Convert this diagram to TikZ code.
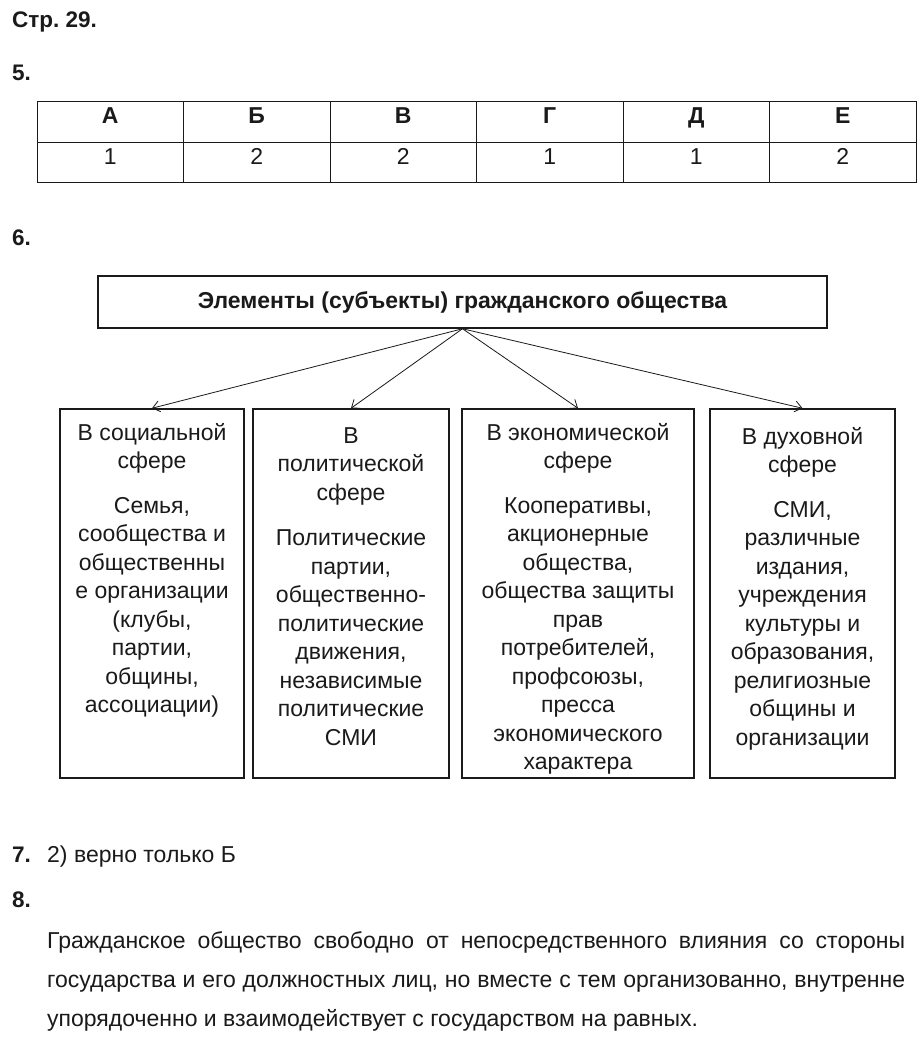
\documentclass[tikz,border=0pt]{standalone}
\usepackage{fontspec}
\setmainfont{Liberation Sans}
\frenchspacing
\usepackage{tikz}
\usetikzlibrary{arrows.meta, positioning}
\definecolor{inkblack}{HTML}{1A1A1A}

\tikzset{
    numlabel/.style={anchor=base west, inner sep=0pt, font=\bfseries\fontsize{22.5}{26}\selectfont},
    cellhead/.style={anchor=base, inner sep=0pt, font=\bfseries\fontsize{23}{26}\selectfont},
    cellval/.style={anchor=base, inner sep=0pt, font=\fontsize{23}{26}\selectfont},
    titlebox/.style={draw, line width=1.5pt, minimum width=729pt, minimum height=52pt, inner sep=0pt, font=\bfseries\fontsize{23}{26}\selectfont},
    spherebox/.style={draw, line width=1.5pt, minimum height=369pt, inner sep=0pt},
    boxtext/.style={anchor=north, align=center, inner sep=0pt, font=\fontsize{23}{28.5}\selectfont},
    paratext/.style={anchor=base west, inner sep=0pt, font=\fontsize{23}{26}\selectfont},
}

\begin{document}
\begin{tikzpicture}[x=1pt, y=-1pt, >={Straight Barb[length=7pt, width=11pt]}, inkblack]
    \useasboundingbox[fill=white] (0,0) rectangle (920,1043);

    % ── page and task 5 ───────────────────────────────────────────────
    \node[numlabel] (page) at (12,28) {Стр. 29.};
    \node[numlabel] (task5) at (12,81) {5.};
    \draw[line width=0.8pt] (37,101) rectangle (916,182);
    \draw[line width=0.8pt] (37,142) -- (916,142);
    \foreach \i in {1,...,5}{
        \draw[line width=0.8pt] ({37+146.5*\i},101) -- ({37+146.5*\i},182);
    }
    \foreach \letter/\val [count=\i from 0] in {А/1, Б/2, В/2, Г/1, Д/1, Е/2}{
        \node[cellhead] (head\i) at ({37+146.5*(\i+0.5)},124) {\letter};
        \node[cellval] (val\i) at ({37+146.5*(\i+0.5)},165) {\val};
    }

    % ── task 6: scheme ────────────────────────────────────────────────
    \node[numlabel] (task6) at (12,245) {6.};
    \node[titlebox] (title) at (462.5,302) {Элементы (субъекты) гражданского общества};

    \node[spherebox, minimum width=184pt] (soc) at (152,593.5) {};
    \node[spherebox, minimum width=196pt] (pol) at (351,593.5) {};
    \node[spherebox, minimum width=232pt] (eco) at (578,593.5) {};
    \node[spherebox, minimum width=185pt] (spir) at (802.5,593.5) {};

    \foreach \target in {soc, pol, eco, spir}{
        \draw[->, line width=0.8pt] (title.south) -- (\target.north);
    }

    \node[boxtext] (socText) at (152,423) {В социальной\\сфере\\[16pt]
        Семья,\\сообщества и\\общественны\\е организации\\(клубы,\\партии,\\общины,\\ассоциации)};
    \node[boxtext] (polText) at (351,427) {В\\политической\\сфере\\[17pt]
        Политические\\партии,\\общественно-\\политические\\движения,\\независимые\\политические\\СМИ};
    \node[boxtext] (ecoText) at (578,423) {В экономической\\сфере\\[16pt]
        Кооперативы,\\акционерные\\общества,\\общества защиты\\прав\\потребителей,\\профсоюзы,\\пресса\\экономического\\характера};
    \node[boxtext] (spirText) at (802.5,427) {В духовной\\сфере\\[16pt]
        СМИ,\\различные\\издания,\\учреждения\\культуры и\\образования,\\религиозные\\общины и\\организации};

    % ── tasks 7 and 8 ─────────────────────────────────────────────────
    \node[numlabel] (task7) at (12,862) {7.};
    \node[paratext] (answer7) at (47,862) {2) верно только Б};
    \node[numlabel] (task8) at (12,907) {8.};
    \node[paratext] (line1) at (47,948) {\makebox[858pt][s]{Гражданское общество свободно от непосредственного влияния со стороны}};
    \node[paratext] (line2) at (47,987) {\makebox[858pt][s]{государства и его должностных лиц, но вместе с тем организованно, внутренне}};
    \node[paratext] (line3) at (47,1026) {упорядоченно и взаимодействует с государством на равных.};
\end{tikzpicture}
\end{document}
